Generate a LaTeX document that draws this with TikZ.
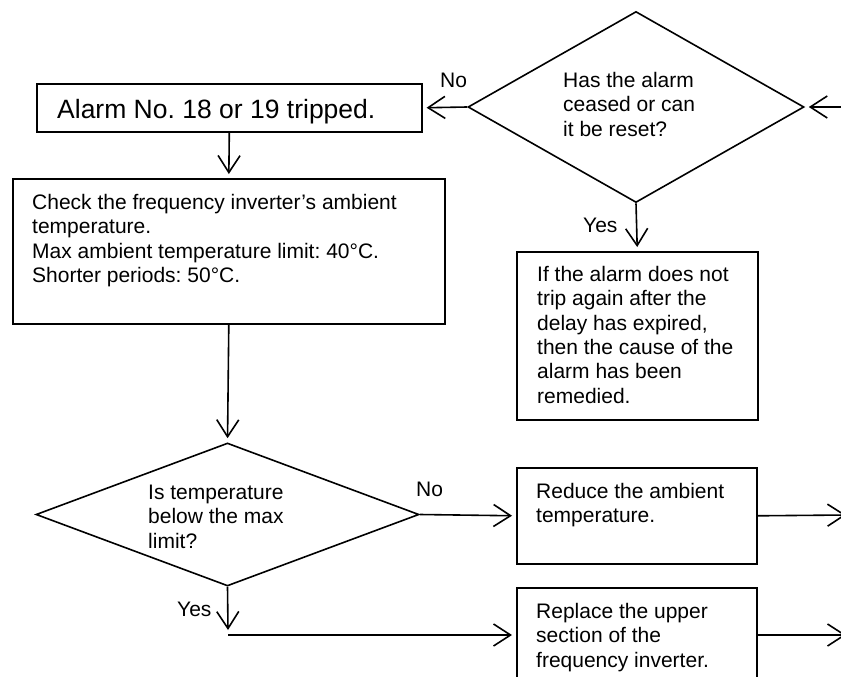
\documentclass[tikz,border=0pt]{standalone}
\usepackage{fontspec}
\setmainfont{Liberation Sans}
\usetikzlibrary{arrows.meta,shapes.geometric}
\frenchspacing

\tikzset{
  box/.style={draw, line width=1.6pt, inner sep=0pt, anchor=north west},
  decision/.style={draw, diamond, line width=1.6pt, inner sep=0pt},
  txt/.style={anchor=north west, inner sep=0pt, align=left,
              font=\fontsize{21}{24.4}\selectfont},
  lbl/.style={anchor=base west, inner sep=0pt, font=\fontsize{21}{24.4}\selectfont},
  arr/.style={line width=1.6pt,
              -{Straight Barb[length=17pt,width=22pt,line width=1.6pt]},
              shorten >=4pt},
}

\begin{document}
\begin{tikzpicture}[x=1pt,y=-1pt]
  \useasboundingbox (0,0) rectangle (841,677);
  \fill[white] (0,0) rectangle (841,677);
  \clip (0,0) rectangle (841,677);

  % process boxes
  \node[box, minimum width=385pt, minimum height=48pt] (alarm) at (36,83) {};
  \node[box, minimum width=432pt, minimum height=145pt] (check) at (12,178) {};
  \node[box, minimum width=241pt, minimum height=168pt] (ok) at (516,251) {};
  \node[box, minimum width=240pt, minimum height=96pt] (reduce) at (516,467) {};
  \node[box, minimum width=240pt, minimum height=113pt] (replace) at (516,587) {};

  % decisions
  \node[decision, minimum width=336pt, minimum height=191pt] (reset) at (636,107) {};
  \node[decision, minimum width=383pt, minimum height=143pt] (temp) at (227.5,514.5) {};

  % texts
  \node[anchor=base west, inner sep=0pt, font=\fontsize{26.5}{30}\selectfont]
    (alarmtxt) at (57,118) {Alarm No. 18 or 19 tripped.};
  \node[txt] (checktxt) at (32,193.8) {Check the frequency inverter’s ambient\\
    temperature.\\ Max ambient temperature limit: 40°C.\\ Shorter periods: 50°C.};
  \node[txt] (resettxt) at (563,71.8) {Has the alarm\\ ceased or can\\ it be reset?};
  \node[txt] (oktxt) at (537,265.8) {If the alarm does not\\ trip again after the\\
    delay has expired,\\ then the cause of the\\ alarm has been\\ remedied.};
  \node[txt] (temptxt) at (148,484.8) {Is temperature\\ below the max\\ limit?};
  \node[txt] (reducetxt) at (536,482.8) {Reduce the ambient\\ temperature.};
  \node[txt] (replacetxt) at (536,602.8) {Replace the upper\\ section of the\\ frequency inverter.};

  % branch labels
  \node[lbl] (noA) at (440,88) {No};
  \node[lbl] (yesA) at (583,232) {Yes};
  \node[lbl] (noB) at (416,496) {No};
  \node[lbl] (yesB) at (177,616) {Yes};

  % loose ends
  \coordinate (inR) at (845,107);
  \coordinate (yesEnd) at (228,630);
  \coordinate (yesStart) at (228,635);
  \coordinate (outA) at (846,515);
  \coordinate (outB) at (846,635);

  % connectors
  \draw[arr] (inR) -- (reset.east);
  \draw[arr] (reset.west) -- (alarm.east);
  \draw[arr] (alarm.south) -- (check.north);
  \draw[arr] (reset.south) -- (ok.north);
  \draw[arr] (check.south) -- (temp.north);
  \draw[arr] (temp.east) -- (reduce.west);
  \draw[arr, shorten >=0pt] (temp.south) -- (yesEnd);
  \draw[arr] (yesStart) -- (yesStart -| replace.west);
  \draw[arr, shorten >=0pt] (reduce.east) -- (outA);
  \draw[arr, shorten >=0pt] (outB -| replace.east) -- (outB);
\end{tikzpicture}
\end{document}
